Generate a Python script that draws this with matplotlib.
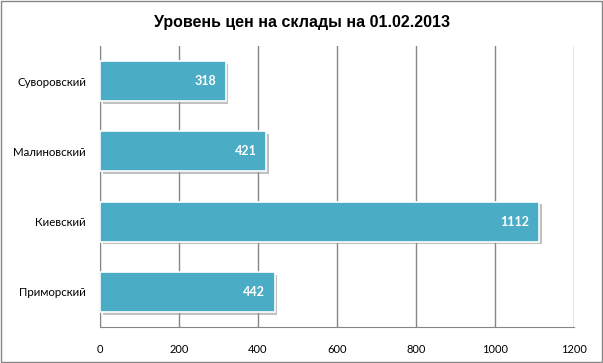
import matplotlib
matplotlib.use("Agg")
import matplotlib.pyplot as plt
import matplotlib.patheffects as pe
from matplotlib.patches import Rectangle

categories = ["Суворовский", "Малиновский", "Киевский", "Приморский"]
values = [318, 421, 1112, 442]
xticks = [0, 200, 400, 600, 800, 1000, 1200]

fig = plt.figure(figsize=(6.03, 3.63), dpi=100)
ax = fig.add_axes([100/603, 1-327/363, 474/603, 281/363])

pos = list(range(len(categories)))[::-1]
bars = ax.barh(pos, values, height=0.57, color="#4BACC6", edgecolor="white",
               linewidth=1.2, zorder=3)
for b in bars:
    b.set_path_effects([pe.SimplePatchShadow(offset=(2, -2), shadow_rgbFace="#999999", alpha=0.6),
                        pe.Normal()])

for p, v in zip(pos, values):
    ax.annotate(str(v), (v, p), xytext=(-7, 0), textcoords="offset points",
                ha="right", va="center", color="white", fontsize=9,
                fontweight="bold", family="Lato", zorder=4)

ax.set_xlim(0, 1200)
ax.set_ylim(-0.5, len(categories) - 0.5)
ax.set_xticks(xticks)
ax.set_xticklabels([str(t) for t in xticks], family="Lato", fontsize=8)
ax.set_yticks(pos)
ax.set_yticklabels(categories, family="Lato", fontsize=8.3)
ax.tick_params(axis="x", length=0, pad=12)
ax.tick_params(axis="y", length=0, pad=10)
ax.xaxis.grid(True, color="#868686", linewidth=1, zorder=0)
for s in ["top", "right"]:
    ax.spines[s].set_visible(False)
for s in ["left", "bottom"]:
    ax.spines[s].set_color("#868686")

fig.text(0.5, 1-22/363, "Уровень цен на склады на 01.02.2013", ha="center",
         va="center", fontsize=11.5, fontweight="bold", family="Liberation Sans")

fig.patches.append(Rectangle((1/603, 1/363), 601/603, 361/363, transform=fig.transFigure,
                             fill=False, edgecolor="#868686", linewidth=1))

fig.savefig("out.png", dpi=100)
